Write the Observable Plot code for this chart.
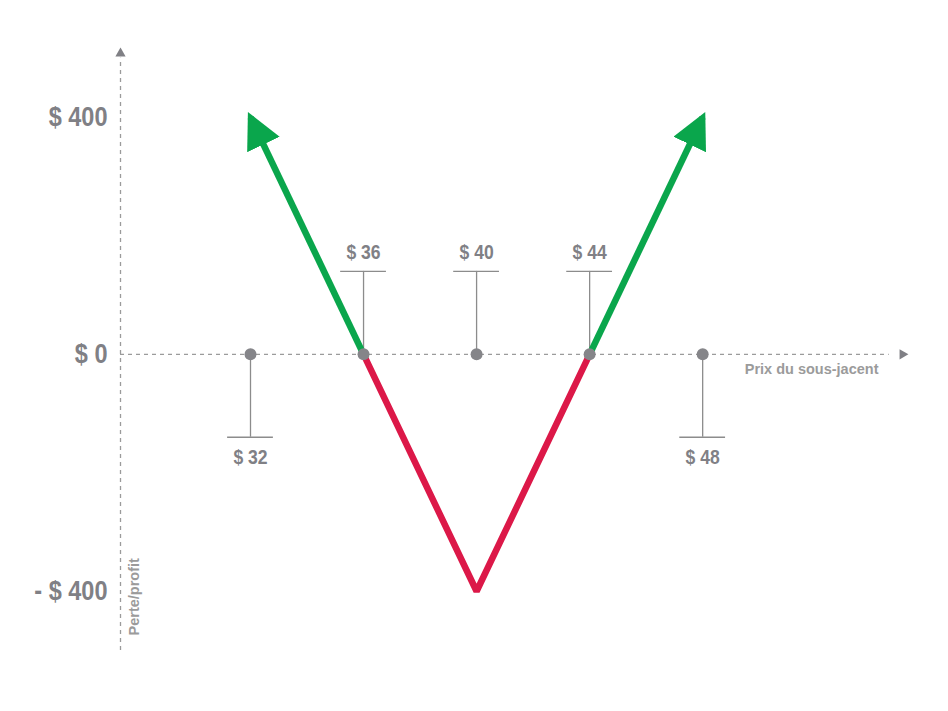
<!DOCTYPE html>
<html><head><meta charset="utf-8">
<script src="https://cdn.jsdelivr.net/npm/d3@7"></script>
<script src="https://cdn.jsdelivr.net/npm/@observablehq/plot@0.6"></script>
<style>
html,body{margin:0;padding:0;background:#fff;}
</style></head>
<body><div id="chart"></div>
<script>
// ---- data ----
const prices = [32, 36, 40, 44, 48];
const priceLabels = ["$ 32", "$ 36", "$ 40", "$ 44", "$ 48"];
const labelSide = ["below", "above", "above", "above", "below"];
const yTicks = [400, 0, -400];
const yTickLabels = ["$ 400", "$ 0", "- $ 400"];
const lossX = [36, 40, 44];
const lossY = [0, -400, 0];
const gainLeftX = [36, 32];
const gainLeftY = [0, 400];
const gainRightX = [44, 48];
const gainRightY = [0, 400];
const xTitle = "Prix du sous-jacent";
const yTitle = "Perte/profit";

const axisX = 27.4;     // where the vertical axis sits (price units)
const stem = 140;       // stem length (P&L units)
const capHalf = 0.81;   // half-width of the stem cap (price units)

const loss = lossX.map((x, i) => ({x, y: lossY[i]}));
const gains = [
  ...gainLeftX.map((x, i) => ({x, y: gainLeftY[i], g: "L"})),
  ...gainRightX.map((x, i) => ({x, y: gainRightY[i], g: "R"}))
];
const pts = prices.map((p, i) => ({p, label: priceLabels[i], up: labelSide[i] === "above"}));

const font = "'Liberation Sans',Arial,Helvetica,sans-serif";
const gray = "#808085";
const axisGray = "#9b9b9b";
const red = "#dc1848";
const green = "#0aa64c";

const chart = Plot.plot({
  width: 948, height: 711,
  marginLeft: 120, marginRight: 48, marginTop: 47, marginBottom: 61,
  x: {domain: [axisX, 55], axis: null},
  y: {domain: [-500, 518], axis: null},
  style: {fontFamily: font, background: "#fff"},
  marks: [
    // vertical axis
    Plot.ruleX([axisX], {y1: -500, y2: 500, stroke: axisGray, strokeWidth: 1.3, strokeDasharray: "4,4"}),
    Plot.dot([axisX], {x: d => d, frameAnchor: "top", dy: 6, symbol: "triangle", r: 3.8, fill: gray, stroke: "none"}),
    // horizontal axis
    Plot.ruleY([0], {x1: axisX, x2: 54.6, stroke: axisGray, strokeWidth: 1.3, strokeDasharray: "4,4"}),
    Plot.dot([0], {y: d => d, frameAnchor: "right", dx: 2, symbol: "triangle", rotate: 90, r: 3.8, fill: gray, stroke: "none"}),
    // stems
    Plot.ruleX(pts, {x: "p", y1: 0, y2: d => d.up ? stem : -stem, stroke: "#8c8c8c", strokeWidth: 1.3}),
    Plot.ruleY(pts, {y: d => d.up ? stem : -stem, x1: d => d.p - capHalf, x2: d => d.p + capHalf, stroke: "#8c8c8c", strokeWidth: 1.3}),
    // payoff lines
    Plot.line(loss, {x: "x", y: "y", stroke: red, strokeWidth: 6.5, strokeLinejoin: "miter", strokeLinecap: "butt"}),
    Plot.line(gains, {x: "x", y: "y", z: "g", stroke: green, strokeWidth: 6.5, strokeLinecap: "butt"}),
    // dots
    Plot.dot(pts, {x: "p", y: 0, r: 6, fill: "#858589", stroke: "none"}),
    // price labels
    Plot.text(pts.filter(d => d.up), {x: "p", y: stem, text: "label", dy: -19, fontSize: 19.5, fontWeight: "bold", fill: gray}),
    Plot.text(pts.filter(d => !d.up), {x: "p", y: -stem, text: "label", dy: 21, fontSize: 19.5, fontWeight: "bold", fill: gray}),
    // y tick labels
    Plot.text(yTicks, {x: axisX, y: d => d, text: (d, i) => yTickLabels[i], textAnchor: "end", dx: -13, fontSize: 28, fontWeight: "bold", fill: gray}),
    // axis titles
    Plot.text([xTitle], {y: 0, frameAnchor: "right", text: d => d, textAnchor: "end", dx: -22, dy: 15, fontSize: 14.5, fontWeight: "bold", fill: axisGray}),
    Plot.text([yTitle], {x: axisX, frameAnchor: "bottom", text: d => d, rotate: -90, textAnchor: "start", dx: 18, dy: -15, fontSize: 14.5, fontWeight: "bold", fill: axisGray})
  ]
});

const svg = d3.select(chart);
// narrow the lettering a little, like a condensed face
svg.selectAll("text").each(function () {
  const fs = parseFloat(this.getAttribute("font-size") || this.parentNode.getAttribute("font-size") || 14);
  const k = fs > 24 ? 0.84 : fs > 16 ? 0.9 : 1;
  const t = this.getAttribute("transform") || "";
  this.setAttribute("transform", t + ` scale(${k},1)`);
});
// filled arrowheads on the profit lines
const defs = svg.insert("defs", ":first-child");
defs.append("marker")
  .attr("id", "gainHead")
  .attr("viewBox", "0 0 36 36")
  .attr("refX", 30).attr("refY", 18)
  .attr("markerWidth", 36).attr("markerHeight", 36)
  .attr("markerUnits", "userSpaceOnUse")
  .attr("orient", "auto")
  .append("path").attr("d", "M0,0L36,18L0,36Z").attr("fill", green);
svg.selectAll(`g[stroke="${green}"] path`).attr("marker-end", "url(#gainHead)");

document.getElementById("chart").appendChild(chart);
</script>
</body></html>
